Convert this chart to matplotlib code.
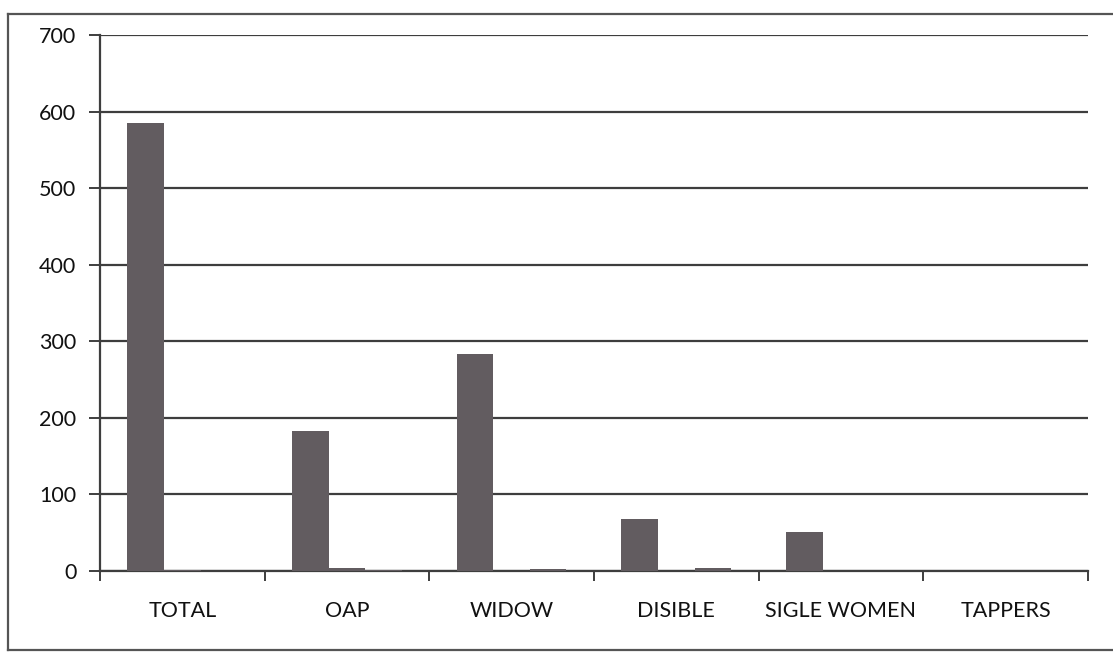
import matplotlib
matplotlib.use("Agg")
import matplotlib.pyplot as plt
import numpy as np
from matplotlib.lines import Line2D

plt.rcParams['font.family'] = ['Lato', 'DejaVu Sans']

categories = ["TOTAL", "OAP", "WIDOW", "DISIBLE", "SIGLE WOMEN", "TAPPERS"]
series_1 = [585, 182, 283, 67, 51, 0]
series_2 = [1, 3, 0, 0, 0, 0]
series_3 = [0, 0.5, 2, 3, 0, 0]
y_ticks = [0, 100, 200, 300, 400, 500, 600, 700]

bar_color = "#625c60"
grid_color = "#3e3e3e"
text_color = "#111111"

fig = plt.figure(figsize=(11.13, 6.62), dpi=100)
ax = fig.add_axes([0.0898, 0.138, 0.8877, 0.809])

x = np.arange(len(categories))
w = 0.222
for i, vals in enumerate([series_1, series_2, series_3]):
    ax.bar(x + (i - 1) * w, vals, width=w, color=bar_color, zorder=3)

ax.set_xlim(-0.5, len(categories) - 0.5)
ax.set_ylim(0, 700)
ax.set_yticks(y_ticks)
ax.set_yticklabels([str(v) for v in y_ticks], fontsize=15.5, color=text_color)
ax.yaxis.grid(True, color=grid_color, linewidth=1.6)
ax.set_axisbelow(True)

ax.set_xticks(x)
ax.set_xticklabels(categories, fontsize=15.5, color=text_color)
ax.tick_params(axis='x', which='major', length=0, pad=22)
ax.set_xticks(np.arange(len(categories) + 1) - 0.5, minor=True)
ax.tick_params(axis='x', which='minor', length=7, width=1.4, color=grid_color, direction='out')
ax.tick_params(axis='y', length=8, width=1.4, color=grid_color, direction='out', pad=9)

for side in ['top', 'right']:
    ax.spines[side].set_visible(False)
for side in ['left', 'bottom']:
    ax.spines[side].set_color(grid_color)
    ax.spines[side].set_linewidth(1.6)

# outer chart frame
frame_kw = dict(color="#555555", linewidth=1.6, transform=fig.transFigure)
fig.add_artist(Line2D([8 / 1113, 8 / 1113], [1 - 14 / 662, 1 - 650 / 662], **frame_kw))
fig.add_artist(Line2D([8 / 1113, 1.0], [1 - 14 / 662, 1 - 14 / 662], **frame_kw))
fig.add_artist(Line2D([8 / 1113, 1.0], [1 - 650 / 662, 1 - 650 / 662], **frame_kw))

fig.savefig("out.png", dpi=100, facecolor="white")
